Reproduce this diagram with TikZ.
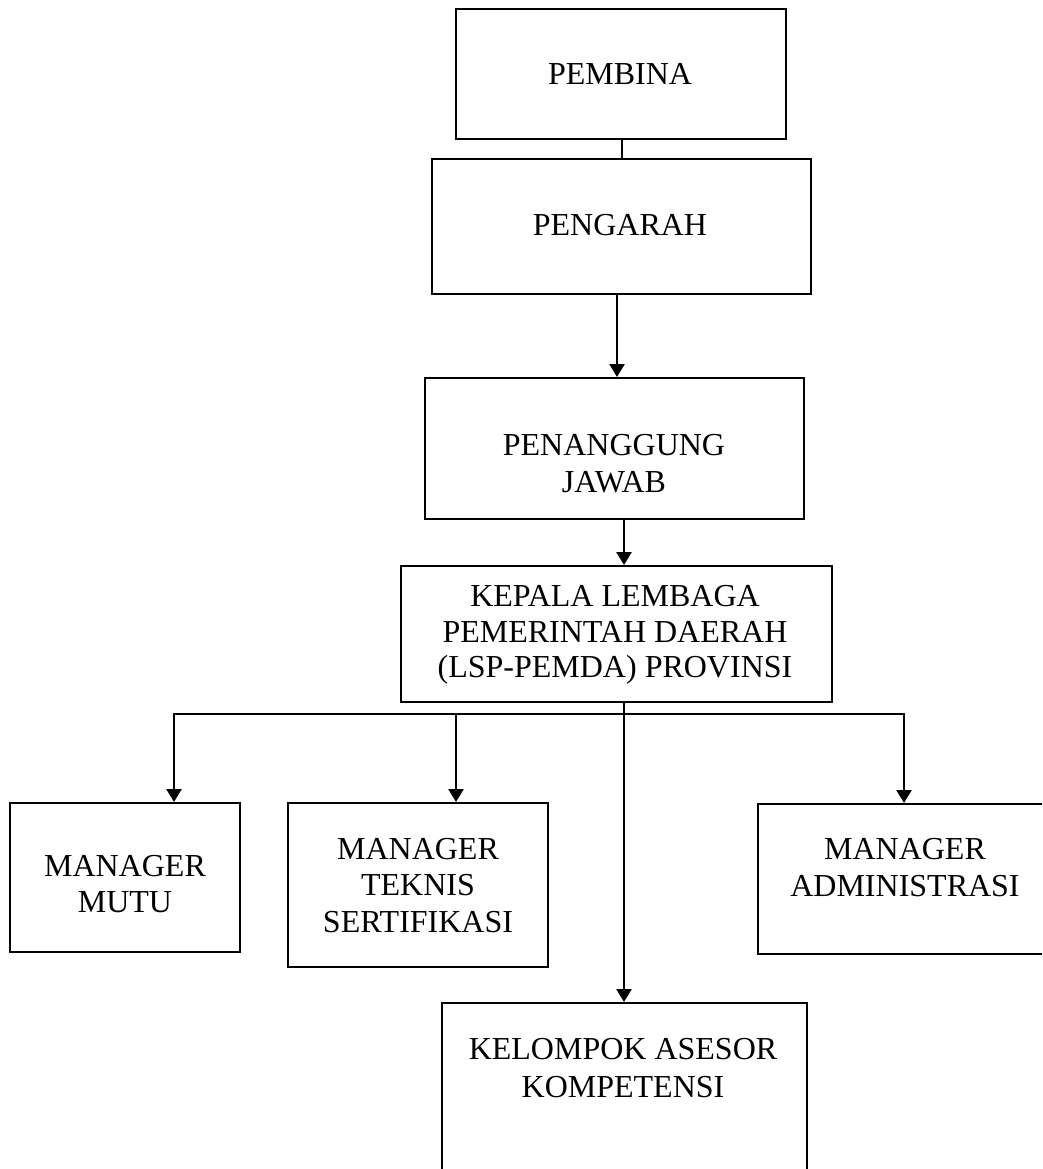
\documentclass[tikz,border=0pt]{standalone}
\usepackage{fontspec}
\setmainfont{Liberation Serif}
\usetikzlibrary{arrows.meta}
\begin{document}
\begin{tikzpicture}[x=1pt,y=-1pt,
  box/.style={draw=black, line width=2pt, inner sep=0pt, rectangle, fill=none},
  conn/.style={draw=black, line width=2.6pt, line join=miter},
  arr/.style={conn, -{Triangle[width=15pt,length=13pt]}},
  txt/.style={inner sep=0pt, anchor=base, font=\fontsize{32}{36}\selectfont}]
\useasboundingbox (0,0) rectangle (1042,1169);
\clip (0,0) rectangle (1042,1169);
\fill[white] (0,0) rectangle (1042,1169);

% boxes
\node[box, minimum width=330pt, minimum height=130pt] (pembina) at (621,74) {};
\node[box, minimum width=379pt, minimum height=135pt] (pengarah) at (621.5,226.5) {};
\node[box, minimum width=379pt, minimum height=141pt] (pj) at (614.5,448.5) {};
\node[box, minimum width=431pt, minimum height=136pt] (kepala) at (616.5,634) {};
\node[box, minimum width=230pt, minimum height=149pt] (mutu) at (125,877.5) {};
\node[box, minimum width=260pt, minimum height=164pt] (teknis) at (418,885) {};
\node[box, minimum width=302pt, minimum height=150pt] (admin) at (909,879) {};
\node[box, minimum width=365pt, minimum height=182pt] (kelompok) at (624.5,1094) {};

% texts
\node[txt] (t1) at (620,85) {PEMBINA};
\node[txt] (t2) at (620,235) {PENGARAH};
\node[txt] (t3a) at (614,455) {PENANGGUNG};
\node[txt] (t3b) at (614,492) {JAWAB};
\node[txt] (t4a) at (615,606) {KEPALA LEMBAGA};
\node[txt] (t4b) at (615,642) {PEMERINTAH DAERAH};
\node[txt] (t4c) at (615,677) {(LSP-PEMDA) PROVINSI};
\node[txt] (t5a) at (125,876) {MANAGER};
\node[txt] (t5b) at (125,912) {MUTU};
\node[txt] (t6a) at (418,859) {MANAGER};
\node[txt] (t6b) at (418,895) {TEKNIS};
\node[txt] (t6c) at (418,932) {SERTIFIKASI};
\node[txt] (t7a) at (905,859) {MANAGER};
\node[txt] (t7b) at (905,896) {ADMINISTRASI};
\node[txt] (t8a) at (623,1059) {KELOMPOK ASESOR};
\node[txt] (t8b) at (623,1097) {KOMPETENSI};

% connector guide coordinates
\coordinate (xa) at (622,0);
\coordinate (xb) at (617,0);
\coordinate (xc) at (624,0);
\coordinate (xm) at (174,0);
\coordinate (xt) at (456,0);
\coordinate (xd) at (904,0);
\coordinate (bus) at (0,714);

% connectors
\draw[conn] (xa |- pembina.south) -- (xa |- pengarah.north);
\draw[arr] (xb |- pengarah.south) -- (xb |- pj.north);
\draw[arr] (xc |- pj.south) -- (xc |- kepala.north);
\draw[arr] (xc |- kepala.south) -- (xc |- kelompok.north);
\draw[conn, {Triangle[width=15pt,length=13pt]}-{Triangle[width=15pt,length=13pt]}]
  (xm |- mutu.north) -- (xm |- bus) -- (xd |- bus) -- (xd |- admin.north);
\draw[arr] (xt |- bus) -- (xt |- teknis.north);
\end{tikzpicture}
\end{document}
